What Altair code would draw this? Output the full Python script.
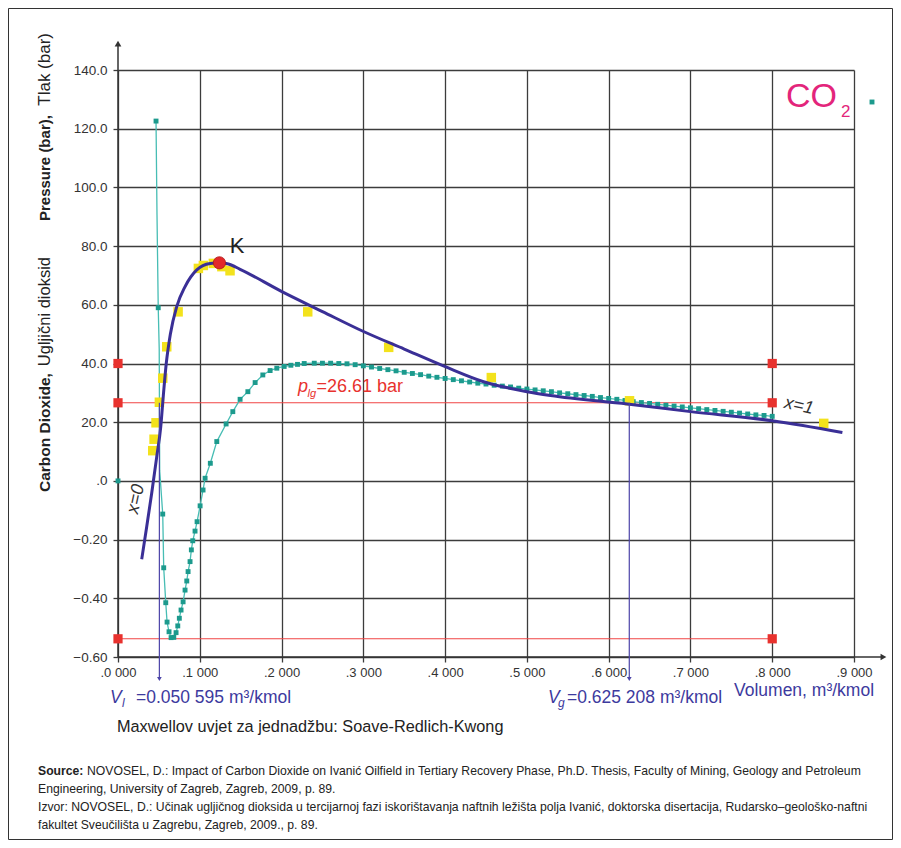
import altair as alt
import pandas as pd

# ---------------- data ----------------
x_ticks = [0.0, 0.1, 0.2, 0.3, 0.4, 0.5, 0.6, 0.7, 0.8, 0.9]
y_ticks = [-60, -40, -20, 0, 20, 40, 60, 80, 100, 120, 140]

# Soave-Redlich-Kwong envelope (navy curve)
blue_x = [0.0290, 0.0351, 0.0412, 0.0474, 0.0523, 0.0554, 0.0590, 0.0640, 0.0718, 0.0820,
          0.0963, 0.1126, 0.1240, 0.1350, 0.1493, 0.2004, 0.2500, 0.3002, 0.3500, 0.4002,
          0.4470, 0.5002, 0.5288, 0.6226, 0.7001, 0.8001, 0.8858]
blue_y = [-26.7, -15.6, -4.2, 8.3, 18.5, 29.0, 40.0, 50.0, 59.4, 66.2,
          71.9, 74.1, 74.3, 73.9, 72.1, 64.5, 57.7, 50.9, 44.9, 38.9,
          33.8, 30.4, 29.1, 26.2, 23.6, 20.5, 16.5]

# CO2 isotherm (teal markers)
teal_x = [0.0465, 0.0492, 0.0547, 0.0559, 0.0584, 0.0600, 0.0624, 0.0649, 0.0682, 0.0710,
          0.0731, 0.0750, 0.0771, 0.0796, 0.0820, 0.0841, 0.0857, 0.0881, 0.0897, 0.0914,
          0.0942, 0.0967, 0.1004, 0.1040, 0.1065, 0.1129, 0.1208, 0.1322, 0.1404, 0.1493,
          0.1588, 0.1677, 0.1771, 0.1860, 0.1942, 0.2032, 0.2114, 0.2195, 0.2277,
          0.24, 0.25, 0.26, 0.27, 0.28, 0.29, 0.30, 0.31, 0.32, 0.33, 0.34, 0.35, 0.36,
          0.37, 0.38, 0.39, 0.40, 0.41, 0.42, 0.43, 0.44, 0.45, 0.46, 0.47, 0.48, 0.49,
          0.50, 0.51, 0.52, 0.53, 0.54, 0.55, 0.56, 0.57, 0.58, 0.59, 0.60, 0.61, 0.62,
          0.63, 0.64, 0.65, 0.66, 0.67, 0.68, 0.69, 0.70, 0.71, 0.72, 0.73, 0.74, 0.75,
          0.76, 0.77, 0.78, 0.79, 0.80]
teal_y = [122.6, 59.0, -11.3, -29.6, -41.5, -48.1, -51.4, -53.4, -53.3, -51.7,
          -49.4, -46.8, -44.0, -41.2, -37.2, -34.1, -30.9, -27.5, -23.5, -20.4,
          -17.1, -13.9, -8.5, -3.1, 0.9, 6.0, 13.4, 19.4, 23.6, 27.8,
          30.4, 33.5, 36.1, 37.6, 38.4, 39.0, 39.4, 39.7, 40.0,
          40.1, 40.1, 40.1, 40.0, 39.9, 39.6, 39.2, 38.8, 38.3, 37.9, 37.5, 37.0, 36.6,
          36.2, 35.7, 35.3, 34.9, 34.5, 34.1, 33.7, 33.3, 33.0, 32.6, 32.3, 32.0, 31.6,
          31.3, 31.0, 30.7, 30.4, 30.0, 29.7, 29.4, 29.1, 28.8, 28.4, 28.1, 27.8, 27.4,
          27.0, 26.7, 26.4, 26.1, 25.8, 25.5, 25.2, 24.9, 24.6, 24.3, 24.0, 23.7, 23.4,
          23.1, 22.8, 22.5, 22.3, 22.0]
# unmarked bends of the teal polyline
teal_bend_x = [0.0477, 0.0504, 0.0510]
teal_bend_y = [90.6, 45.0, 3.5]
# lone teal marker at the origin
teal_lone_x = [0.0]
teal_lone_y = [0.0]

# experimental points (yellow squares)
yellow_x = [0.0425, 0.0441, 0.0465, 0.0506, 0.0547, 0.0596, 0.0735, 0.0983, 0.1044,
            0.1166, 0.1270, 0.1370, 0.2320, 0.3310, 0.4565, 0.6255, 0.8630]
yellow_y = [10.3, 14.2, 19.8, 26.8, 35.0, 45.7, 57.6, 72.4, 73.4,
            74.1, 73.0, 71.6, 57.6, 45.5, 35.2, 27.3, 19.6]

# red reference squares
red_x = [0.0, 0.0, 0.0, 0.8, 0.8, 0.8]
red_y = [40.0, 26.61, -53.8, 40.0, 26.61, -53.8]

p_lg = 26.61
p_low = -53.8
red_x_end = 0.8
v_l = 0.050595
v_g = 0.625208
k_x, k_y = 0.124, 74.3
x_axis_end = 0.936
y_axis_end = 149.0
arrow_bottom = -67.5

# ---------------- styling ----------------
NAVY = "#3a2f96"
TEAL_LINE = "#47bdb4"
TEAL_MARK = "#1c9a8d"
RED = "#e8322e"
RED_LINE = "#f04545"
YELLOW = "#f3e21c"
MAGENTA = "#e3257b"
TEXT_BLUE = "#3d3a9e"
GRID = "#3c3c3c"
SANS = "Liberation Sans, Arial, sans-serif"

xs = alt.Scale(domain=[0, 0.9], nice=False, zero=False)
ys = alt.Scale(domain=[-60, 140], nice=False, zero=False)

x_axis = alt.Axis(values=x_ticks, title=None, grid=True, domain=False,
                  labelExpr="'.' + round(datum.value*10) + ' 000'",
                  labelFont=SANS, labelFontSize=13, labelColor="#333333",
                  labelPadding=4, tickSize=5, tickColor=GRID, tickWidth=1.3,
                  gridColor=GRID, gridWidth=1.3, gridOpacity=1, labelFlush=False)
y_axis = alt.Axis(values=y_ticks, title=None, grid=True, domain=False,
                  labelExpr="datum.value < 0 ? format(datum.value/100, '.2f') : (datum.value == 0 ? '.0' : format(datum.value, '.1f'))",
                  labelFont=SANS, labelFontSize=13.5, labelColor="#333333",
                  labelPadding=6, tickSize=5, tickColor=GRID, tickWidth=1.3,
                  gridColor=GRID, gridWidth=1.3, gridOpacity=1, labelFlush=False)


def X(f):
    return alt.X(f"{f}:Q", scale=xs, axis=x_axis)


def Y(f):
    return alt.Y(f"{f}:Q", scale=ys, axis=y_axis)


def rules(rows, color, width):
    return alt.Chart(pd.DataFrame(rows, columns=["x", "y", "x2", "y2"])).mark_rule(
        color=color, strokeWidth=width).encode(x=X("x"), y=Y("y"), x2="x2:Q", y2="y2:Q")


def label(text, px, py, **kw):
    kw.setdefault("font", SANS)
    return alt.Chart(pd.DataFrame({"t": [text]})).mark_text(**kw).encode(
        x=alt.value(px), y=alt.value(py), text="t:N")


blue_df = pd.DataFrame({"x": blue_x, "y": blue_y})
teal_df = pd.DataFrame({"x": teal_x, "y": teal_y})
teal_line_df = pd.concat([teal_df, pd.DataFrame({"x": teal_bend_x, "y": teal_bend_y})]).sort_values("x")
teal_pts_df = pd.concat([teal_df, pd.DataFrame({"x": teal_lone_x, "y": teal_lone_y})])
yellow_df = pd.DataFrame({"x": yellow_x, "y": yellow_y})
red_df = pd.DataFrame({"x": red_x, "y": red_y})

layers = []

# axes lines with arrows
layers.append(rules([[0, -60, 0, y_axis_end], [0, -60, x_axis_end, -60]], "#333333", 1.5))
layers.append(alt.Chart(pd.DataFrame({"x": [0.0], "y": [y_axis_end]})).mark_point(
    shape="triangle-up", filled=True, size=45, color="#333333", opacity=1).encode(x=X("x"), y=Y("y")))
layers.append(alt.Chart(pd.DataFrame({"x": [x_axis_end], "y": [-60.0]})).mark_point(
    shape="triangle-right", filled=True, size=45, color="#333333", opacity=1).encode(x=X("x"), y=Y("y")))

# Maxwell lines
layers.append(rules([[0, p_lg, red_x_end, p_lg], [0, p_low, red_x_end, p_low]], RED_LINE, 1.1))

# teal isotherm
layers.append(alt.Chart(teal_line_df).mark_line(color=TEAL_LINE, strokeWidth=1.3).encode(x=X("x"), y=Y("y")))
layers.append(alt.Chart(teal_pts_df).mark_square(color=TEAL_MARK, size=24, opacity=1).encode(x=X("x"), y=Y("y")))

# yellow points
layers.append(alt.Chart(yellow_df).mark_square(color=YELLOW, size=90, opacity=1).encode(x=X("x"), y=Y("y")))

# navy curve
layers.append(alt.Chart(blue_df).mark_line(color=NAVY, strokeWidth=3, interpolate="monotone").encode(
    x=X("x"), y=Y("y")))

# red squares
layers.append(alt.Chart(red_df).mark_square(color=RED, size=85, opacity=1).encode(x=X("x"), y=Y("y")))

# volume arrows
layers.append(rules([[v_l, p_lg, v_l, arrow_bottom], [v_g, p_lg, v_g, arrow_bottom]], "#4c44a8", 1.2))
layers.append(alt.Chart(pd.DataFrame({"x": [v_l, v_g], "y": [arrow_bottom, arrow_bottom]})).mark_point(
    shape="triangle-down", filled=True, size=22, color="#4c44a8", opacity=1).encode(x=X("x"), y=Y("y")))

# critical point K
layers.append(alt.Chart(pd.DataFrame({"x": [k_x], "y": [k_y]})).mark_circle(
    color="#e2282a", size=150, opacity=1, stroke="#b01818", strokeWidth=0.8).encode(x=X("x"), y=Y("y")))

# ---------------- text (pixel positions relative to plot origin) ----------------
layers += [
    label("K", 119, 176, fontSize=22, color="#222222", align="center", baseline="middle"),
    label("p", 180, 322, fontSize=18, fontStyle="italic", color=RED, align="left", baseline="alphabetic"),
    label("lg", 189.5, 326.5, fontSize=11, fontStyle="italic", color=RED, align="left", baseline="alphabetic"),
    label("=26.61 bar", 198.5, 322, fontSize=18, color=RED, align="left", baseline="alphabetic"),
    label("x=0", 18, 429, fontSize=18, fontStyle="italic", color="#333333", angle=282,
          align="center", baseline="middle"),
    label("x=1", 681, 336, fontSize=18, fontStyle="italic", color="#333333", angle=12,
          align="center", baseline="middle"),
    label("CO", 668, 36.7, fontSize=34, color=MAGENTA, align="left", baseline="alphabetic"),
    label("2", 723, 47, fontSize=17, color=MAGENTA, align="left", baseline="alphabetic"),
    label("V", -8, 633, fontSize=17.5, fontStyle="italic", color=TEXT_BLUE, align="left", baseline="alphabetic"),
    label("l", 4, 637, fontSize=12, fontStyle="italic", color=TEXT_BLUE, align="left", baseline="alphabetic"),
    label("=0.050 595 m³/kmol", 18, 633, fontSize=17.5, color=TEXT_BLUE, align="left", baseline="alphabetic"),
    label("V", 430, 633, fontSize=17.5, fontStyle="italic", color=TEXT_BLUE, align="left", baseline="alphabetic"),
    label("g", 440, 637, fontSize=12, fontStyle="italic", color=TEXT_BLUE, align="left", baseline="alphabetic"),
    label("=0.625 208 m³/kmol", 449, 633, fontSize=17.5, color=TEXT_BLUE, align="left", baseline="alphabetic"),
    label("Volumen, m³/kmol", 616, 626, fontSize=17.5, color=TEXT_BLUE, align="left", baseline="alphabetic"),
    label("Maxwellov uvjet za jednadžbu: Soave-Redlich-Kwong", -1, 661.5, fontSize=16.3,
          color="#222222", align="left", baseline="alphabetic"),
    # rotated y title
    label("Carbon Dioxide,", -73, 422, fontSize=15.5, fontWeight="bold", color="#222222",
          angle=270, align="left", baseline="middle"),
    label("Ugljični dioksid", -73, 187, fontSize=16.5, color="#222222",
          angle=270, align="right", baseline="middle"),
    label("Pressure (bar),", -73, 151, fontSize=15, fontWeight="bold", color="#222222",
          angle=270, align="left", baseline="middle"),
    label("Tlak (bar)", -73, -37, fontSize=17, color="#222222",
          angle=270, align="right", baseline="middle"),
    # source
    label("Source:", -80, 705, fontSize=12.2, fontWeight="bold", color="#222222", align="left", baseline="alphabetic"),
    label("NOVOSEL, D.: Impact of Carbon Dioxide on Ivanić Oilfield in Tertiary Recovery Phase, Ph.D. Thesis, Faculty of Mining, Geology and Petroleum",
          -31, 705, fontSize=12.2, color="#222222", align="left", baseline="alphabetic"),
    label("Engineering, University of Zagreb, Zagreb, 2009, p. 89.", -80, 723, fontSize=12.2,
          color="#222222", align="left", baseline="alphabetic"),
    label("Izvor: NOVOSEL, D.: Učinak ugljičnog dioksida u tercijarnoj fazi iskorištavanja naftnih ležišta polja Ivanić, doktorska disertacija, Rudarsko–geološko-naftni",
          -80, 741, fontSize=12.2, color="#222222", align="left", baseline="alphabetic"),
    label("fakultet Sveučilišta u Zagrebu, Zagreb, 2009., p. 89.", -80, 758.5, fontSize=12.2,
          color="#222222", align="left", baseline="alphabetic"),
]

# CO2 legend marker
layers.append(alt.Chart(pd.DataFrame({"t": ["CO2"]})).mark_square(color=TEAL_MARK, size=24, opacity=1).encode(
    x=alt.value(754), y=alt.value(32)))

# outer frame
layers.append(alt.Chart(pd.DataFrame({"t": ["frame"]})).mark_rect(
    fill=None, fillOpacity=0, stroke="#333333", strokeWidth=1).encode(
    x=alt.value(-109.5), x2=alt.value(774.5), y=alt.value(-61.5), y2=alt.value(769.5)))

chart = alt.layer(*layers).properties(
    width=736, height=587,
    autosize=alt.AutoSizeParams(type="none"),
    padding={"left": 110, "top": 62, "right": 39, "bottom": 183},
).configure_view(stroke=None)

chart.save("out.html", embed_options={"renderer": "svg", "actions": False})
